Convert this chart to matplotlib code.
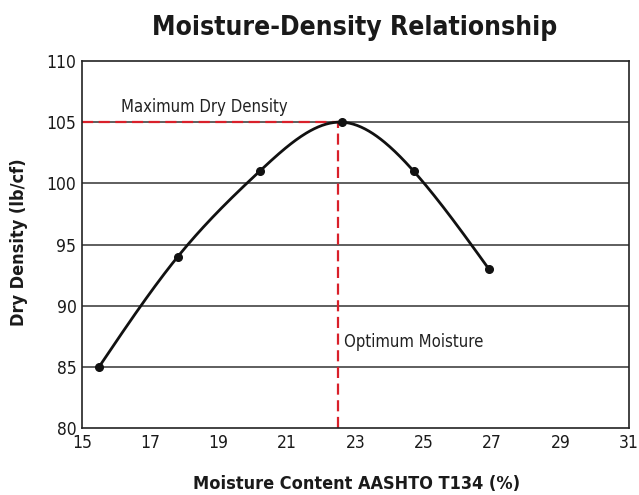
import numpy as np
import matplotlib
matplotlib.use('Agg')
from matplotlib import pyplot as plt

plt.rcParams['font.family'] = ['DejaVu Sans']
plt.rcParams['font.stretch'] = 'condensed'

moisture = [15.5, 17.8, 20.2, 22.6, 24.7, 26.9]
density = [85, 94, 101, 105, 101, 93]
optimum_moisture = 22.5
max_density = 105


def natural_spline(x, y, n=300):
    # plain natural cubic spline so the line bends smoothly through the points
    x = np.asarray(x, float)
    y = np.asarray(y, float)
    k = len(x)
    h = np.diff(x)
    A = np.zeros((k, k))
    b = np.zeros(k)
    A[0, 0] = A[-1, -1] = 1
    for i in range(1, k - 1):
        A[i, i - 1] = h[i - 1]
        A[i, i] = 2 * (h[i - 1] + h[i])
        A[i, i + 1] = h[i]
        b[i] = 3 * ((y[i + 1] - y[i]) / h[i] - (y[i] - y[i - 1]) / h[i - 1])
    c = np.linalg.solve(A, b)
    xs = np.linspace(x[0], x[-1], n)
    idx = np.clip(np.searchsorted(x, xs) - 1, 0, k - 2)
    dx = xs - x[idx]
    bb = (y[idx + 1] - y[idx]) / h[idx] - h[idx] * (2 * c[idx] + c[idx + 1]) / 3
    dd = (c[idx + 1] - c[idx]) / (3 * h[idx])
    ys = y[idx] + bb * dx + c[idx] * dx ** 2 + dd * dx ** 3
    return xs, ys


fig = plt.figure(figsize=(6.39, 4.95), dpi=100)
ax = fig.add_axes([82 / 639, 1 - 428 / 495, (629 - 82) / 639, (428 - 61) / 495])

ax.set_xlim(15, 31)
ax.set_ylim(80, 110)
ax.set_xticks(range(15, 32, 2))
ax.set_yticks(range(80, 111, 5))
ax.tick_params(length=0, labelsize=12.5, pad=4, colors='#1a1a1a')

for yv in range(85, 110, 5):
    ax.axhline(yv, color='#333333', lw=1.1, zorder=1)

for s in ax.spines.values():
    s.set_color('#222222')
    s.set_linewidth(1.2)

xs, ys = natural_spline(moisture, density)
ax.plot(xs, ys, color='#111111', lw=2, zorder=3)
ax.plot(moisture, density, 'o', color='#111111', ms=5.5, zorder=4)

peak = int(np.argmax(density))
ax.plot([15, moisture[peak]], [max_density, max_density], color='#d9202a',
        ls=(0, (5, 2.5)), lw=1.6, zorder=2)
ax.plot([optimum_moisture, optimum_moisture], [80, max_density], color='#d9202a',
        ls=(0, (5, 2.5)), lw=1.6, zorder=2)

ax.text(16.15, 106.2, 'Maximum Dry Density', fontsize=12, color='#222222', va='center')
ax.text(22.65, 87.0, 'Optimum Moisture', fontsize=12, color='#222222', va='center')

fig.text(355 / 639, 1 - 28 / 495, 'Moisture-Density Relationship', fontsize=19,
         fontweight='bold', ha='center', va='center', color='#1a1a1a')
fig.text(357 / 639, 1 - 484 / 495, 'Moisture Content AASHTO T134 (%)', fontsize=13,
         fontweight='bold', ha='center', va='center', color='#1a1a1a')
fig.text(19 / 639, 1 - 242 / 495, 'Dry Density (lb/cf)', fontsize=13,
         fontweight='bold', ha='center', va='center', rotation=90, color='#1a1a1a')

fig.savefig('out.png', dpi=100)
